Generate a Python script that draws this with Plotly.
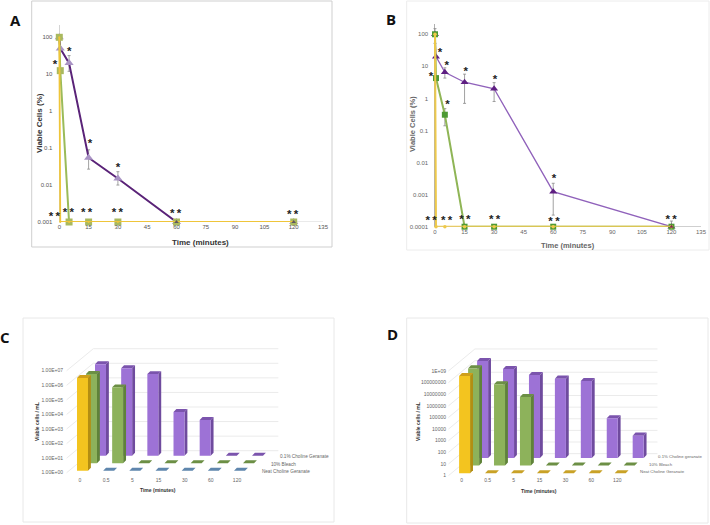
"""Four-panel viability figure: two log-scale kill curves and two oblique 3D-look bar charts."""

import math

import plotly.graph_objects as go

WIDTH = 710
HEIGHT = 525
FONT = "Liberation Sans"

# Panel A - viable cells (%)
A_TIME = [0, 0.5, 5, 15, 30, 60, 120]
A_CHOLINE = [100, 50, 20, 0.055, 0.015, 0.001, 0.001]
A_CHOLINE_UP = [0, 0, 12, 0.035, 0.008, 0, 0]
A_CHOLINE_DOWN = [0, 0, 8, 0.028, 0.005, 0, 0]
A_BLEACH = [100, 12.5, 0.001, 0.001, 0.001, 0.001, 0.001]
A_NEAT = [100, 0.001, 0.001, 0.001, 0.001, 0.001, 0.001]
A_STAR_X = [5.1, -2.2, 15.7, 30]
A_STAR_Y = [38.7, 17.2, 0.132, 0.0296]
A_DOUBLE_X = [-2.5, 4.6, 14, 29.7, 59.6, 119.5]
A_DOUBLE_Y = [0.00137, 0.00179, 0.00179, 0.00174, 0.00161, 0.00151]
A_TICKS = [100, 10, 1, 0.1, 0.01, 0.001]
A_TICK_TEXT = ["100", "10", "1", "0.1", "0.01", "0.001"]

# Panel B - viable cells (%)
B_TIME = [0, 0.5, 5, 15, 30, 60, 120]
B_CHOLINE = [100, 20, 6.5, 3.2, 2.0, 0.00124, 0.0001]
B_CHOLINE_UP = [50, 0, 2.5, 2.5, 1.1, 0.00102, 0.00005]
B_CHOLINE_DOWN = [48, 0, 2.2, 2.5, 1.2, 0.00101, 0]
B_BLEACH = [100, 4.3, 0.31, 0.0001, 0.0001, 0.0001, 0.0001]
B_BLEACH_UP = [0, 0, 0.17, 0, 0, 0, 0]
B_BLEACH_DOWN = [0, 0, 0.17, 0, 0, 0, 0]
B_NEAT = [100, 0.0001, 0.0001, 0.0001, 0.0001, 0.0001, 0.0001]
B_STAR_X = [2.5, 5.9, 15.6, 30.4, -2, 6.4, 60.4]
B_STAR_Y = [26.5, 10.4, 6.4, 3.7, 4.7, 0.6, 0.00296]
B_DOUBLE_X = [-2, 5.9, 15.2, 30.3, 60.4, 119.8]
B_DOUBLE_Y = [0.000148, 0.000148, 0.000156, 0.000156, 0.000142, 0.000156]
B_TICKS = [100, 10, 1, 0.1, 0.01, 0.001, 0.0001]
B_TICK_TEXT = ["100", "10", "1", "0.1", "0.01", "0.001", "0.0001"]

X_TICKS = list(range(0, 136, 15))

# Bar panels - viable cells / mL per time point, 1 means nothing recovered
BAR_TIMES = ["0", "0.5", "5", "15", "30", "60", "120"]
C_CHOLINE = [1.9e6, 1.0e6, 4.0e5, 1.0e3, 2.8e2, 1, 1]
C_BLEACH = [1.35e6, 1.6e5, 1, 1, 1, 1, 1]
C_NEAT = [2.3e6, 1, 1, 1, 1, 1, 1]
C_TICK_TEXT = ["1.00E+00", "1.00E+01", "1.00E+02", "1.00E+03",
               "1.00E+04", "1.00E+05", "1.00E+06", "1.00E+07"]
C_NAMES = ["Neat Choline Geranate", "10% Bleach", "0.1% Choline Geranate"]

D_CHOLINE = [2.2e8, 4.5e7, 1.35e7, 6.6e6, 4.2e6, 2.6e3, 83]
D_BLEACH = [2.3e8, 1.0e7, 8.0e5, 1, 1, 1, 1]
D_NEAT = [2.3e8, 1, 1, 1, 1, 1, 1]
D_TICK_TEXT = ["1", "10", "100", "1000", "10000", "100000", "1000000",
               "10000000", "100000000", "1E+09"]
D_NAMES = ["Neat Choline Geranate", "10% Bleach", "0.1% Choline geranate"]

PURPLE_BAR = dict(front="#9d72d6", side="#6f4b9e", top="#7b54ad")
GREEN_BAR = dict(front="#8db25b", side="#5f8239", top="#6c8f45")
YELLOW_BAR = dict(front="#f3c41f", side="#b38e12", top="#cf9f1a")


def dom_x(left, right):
    return [left / WIDTH, right / WIDTH]


def dom_y(bottom, top):
    return [1 - bottom / HEIGHT, 1 - top / HEIGHT]


fig = go.Figure()
annotations = []
shapes = []


def note(x, y, text, size, color="#404040", bold=False, angle=0, family=FONT):
    label = f"<b>{text}</b>" if bold else text
    annotations.append(dict(
        x=x / WIDTH, y=1 - y / HEIGHT, xref="paper", yref="paper", text=label,
        showarrow=False, textangle=angle, xanchor="center", yanchor="middle",
        font=dict(size=size, color=color, family=family),
    ))


def frame(left, top, right, bottom, color):
    shapes.append(dict(
        type="rect", xref="paper", yref="paper",
        x0=left / WIDTH, x1=right / WIDTH, y0=1 - bottom / HEIGHT, y1=1 - top / HEIGHT,
        line=dict(color=color, width=1), fillcolor="rgba(0,0,0,0)",
    ))


def line_axes(suffix, box, y_range, y_ticks, y_text, axis_color, tick_color):
    left, top, right, bottom = box
    per_unit = (right - left) / 135
    # the range starts a little left of zero so the stars there survive; zero line is the y axis
    base = dict(
        showgrid=False, showline=False, ticks="", automargin=False,
        tickfont=dict(size=6, color=tick_color, family=FONT),
    )
    fig.update_layout(**{
        f"xaxis{suffix}": dict(
            base, domain=dom_x(left - 3 * per_unit, right), range=[-3, 135], tickvals=X_TICKS,
            zeroline=True, zerolinecolor=axis_color, zerolinewidth=1, anchor=f"y{suffix}",
        ),
        f"yaxis{suffix}": dict(
            base, domain=dom_y(bottom, top), type="log", range=y_range, zeroline=False,
            tickvals=y_ticks, ticktext=y_text, anchor=f"x{suffix}",
        ),
    })
    fig.add_trace(go.Scatter(
        x=[0, 135], y=[y_ticks[-1], y_ticks[-1]], xaxis=f"x{suffix}", yaxis=f"y{suffix}",
        mode="lines", line=dict(color=axis_color, width=1), hoverinfo="skip",
        cliponaxis=False, showlegend=False,
    ))


def curve(suffix, x, y, color, width, symbol, size, marker_color, up=None, down=None):
    error = None
    if up is not None:
        error = dict(type="data", array=up, arrayminus=down, color="#8a8a8a",
                     thickness=0.8, width=1.5)
    fig.add_trace(go.Scatter(
        x=x, y=y, xaxis=f"x{suffix}", yaxis=f"y{suffix}", mode="lines+markers",
        line=dict(color=color, width=width),
        marker=dict(symbol=symbol, size=size, color=marker_color),
        error_y=error, cliponaxis=False, showlegend=False,
    ))


def dots(suffix, x, y, symbol, size, color):
    fig.add_trace(go.Scatter(
        x=x, y=y, xaxis=f"x{suffix}", yaxis=f"y{suffix}", mode="markers",
        marker=dict(symbol=symbol, size=size, color=color),
        cliponaxis=False, showlegend=False,
    ))


def stars(suffix, x, y, text):
    fig.add_trace(go.Scatter(
        x=x, y=y, xaxis=f"x{suffix}", yaxis=f"y{suffix}", mode="text",
        text=[f"<b>{text}</b>"] * len(x), textposition="middle center", cliponaxis=False,
        textfont=dict(size=11.5, color="#222222", family=FONT), showlegend=False,
    ))


def prism(bar_index, slot, value, geo):
    """Corner points of one oblique bar, in category / decade units."""
    height = math.log10(value)
    x0 = bar_index - geo["lead"] + slot * geo["slot_x"]
    x1 = x0 + geo["bar_w"]
    y0 = slot * geo["slot_y"]
    y1 = y0 + height
    dx, dy = geo["depth_x"], geo["depth_y"]
    return dict(
        front=[(x0, y0), (x1, y0), (x1, y1), (x0, y1)],
        side=[(x1, y0), (x1 + dx, y0 + dy), (x1 + dx, y1 + dy), (x1, y1)],
        top=[(x0, y1), (x1, y1), (x1 + dx, y1 + dy), (x0 + dx, y1 + dy)],
    )


def polygons(suffix, points_list, color):
    xs, ys = [], []
    for points in points_list:
        xs += [p[0] for p in points] + [points[0][0], None]
        ys += [p[1] for p in points] + [points[0][1], None]
    fig.add_trace(go.Scatter(
        x=xs, y=ys, xaxis=f"x{suffix}", yaxis=f"y{suffix}", mode="lines", fill="toself",
        fillcolor=color, line=dict(width=0, color=color), hoverinfo="skip",
        cliponaxis=False, showlegend=False,
    ))


def bar_panel(suffix, box, origin, unit, geo, series, flat_color, tick_text, names, name_pos, name_size):
    left, top, right, bottom = box
    ox, oy = origin
    ux, uy = unit
    fig.update_layout(**{
        f"xaxis{suffix}": dict(
            domain=dom_x(left, right),
            range=[(left - ox) / ux, (right - ox) / ux],
            tickvals=list(range(len(BAR_TIMES))), ticktext=BAR_TIMES,
            showgrid=False, zeroline=False, showline=False, ticks="", automargin=False,
            tickfont=dict(size=5, color="#666666", family=FONT), anchor=f"y{suffix}",
        ),
        f"yaxis{suffix}": dict(
            domain=dom_y(bottom, top),
            range=[(oy - bottom) / uy, (oy - top) / uy],
            tickvals=[i - geo["tick_drop"] for i in range(len(tick_text))], ticktext=tick_text,
            showgrid=False, zeroline=False, showline=False, ticks="", automargin=False,
            tickfont=dict(size=5, color="#666666", family=FONT), anchor=f"x{suffix}",
        ),
    })

    # wall and floor lines behind the bars
    for i in range(len(tick_text)):
        fig.add_trace(go.Scatter(
            x=[geo["wall_x0"], geo["wall_x1"], geo["wall_x2"]],
            y=[i - geo["tick_drop"], i + geo["wall_y"], i + geo["wall_y"]],
            xaxis=f"x{suffix}", yaxis=f"y{suffix}", mode="lines",
            line=dict(color="#ebebeb", width=1), hoverinfo="skip",
            cliponaxis=False, showlegend=False,
        ))

    # back row first so the nearer rows cover it
    for slot in reversed(range(len(series))):
        values, colors = series[slot]
        bars = [prism(i, slot, v, geo) for i, v in enumerate(values) if v > 1]
        flat = [prism(i, slot, v, geo) for i, v in enumerate(values) if v <= 1]
        flat_fill = flat_color if slot == 0 else colors["top"]
        polygons(suffix, [b["top"] for b in flat], flat_fill)
        polygons(suffix, [b["side"] for b in bars], colors["side"])
        polygons(suffix, [b["top"] for b in bars], colors["top"])
        polygons(suffix, [b["front"] for b in bars], colors["front"])

    for slot, name in enumerate(names):
        fig.add_trace(go.Scatter(
            x=[name_pos[0] + slot * geo["slot_x"]], y=[name_pos[1] + slot * geo["slot_y"]],
            xaxis=f"x{suffix}", yaxis=f"y{suffix}", mode="text", text=[name],
            textposition="middle right", cliponaxis=False, showlegend=False,
            textfont=dict(size=name_size, color="#666666", family=FONT),
        ))


DOUBLE_STAR = "*\u2009*"

# ---- Panel A ----
line_axes("", (59.3, 25, 323, 222), [-3, 2.333], A_TICKS, A_TICK_TEXT, "#d4d4d4", "#555555")
curve("", A_TIME, A_CHOLINE, "#5a2378", 2, "triangle-up", 8, "#a993c4", A_CHOLINE_UP, A_CHOLINE_DOWN)
curve("", A_TIME, A_BLEACH, "#9bbb59", 2, "square", 7, "#a9b95f")
curve("", A_TIME, A_NEAT, "#efc53a", 1.8, "circle", 2, "#efc53a")
dots("", A_TIME[-2:], A_CHOLINE[-2:], "triangle-up", 4, "#5f5560")
stars("", A_STAR_X, A_STAR_Y, "*")
stars("", A_DOUBLE_X, A_DOUBLE_Y, DOUBLE_STAR)

# ---- Panel B ----
line_axes("2", (435, 24, 701, 226.7), [-4, 2.32], B_TICKS, B_TICK_TEXT, "#b0b0b0", "#666666")
curve("2", B_TIME, B_CHOLINE, "#9062bb", 1.3, "triangle-up", 7, "#5e1f82", B_CHOLINE_UP, B_CHOLINE_DOWN)
curve("2", B_TIME, B_BLEACH, "#8fb556", 2, "square", 6, "#4e9a34", B_BLEACH_UP, B_BLEACH_DOWN)
curve("2", B_TIME, B_NEAT, "#eec94a", 2, "circle", 3.5, "#eec94a")
dots("2", B_TIME[-1:], B_CHOLINE[-1:], "triangle-up", 4, "#7b2d4f")
stars("2", B_STAR_X, B_STAR_Y, "*")
stars("2", B_DOUBLE_X, B_DOUBLE_Y, DOUBLE_STAR)

# ---- Panel C ----
C_GEO = dict(lead=0.115, bar_w=0.42, slot_x=0.344, slot_y=0.515, depth_x=0.11, depth_y=0.2,
             tick_drop=0.137, wall_x0=-0.51, wall_x1=0.51, wall_x2=7.58, wall_y=1.373)
bar_panel(
    "3", (64, 330, 334, 476), (80, 470.7), (26.17, 14.57), C_GEO,
    [(C_NEAT, YELLOW_BAR), (C_BLEACH, GREEN_BAR), (C_CHOLINE, PURPLE_BAR)],
    "#5f86ad", C_TICK_TEXT, C_NAMES, (6.95, -0.1), 4.7,
)

# ---- Panel D ----
D_GEO = dict(lead=0.10, bar_w=0.425, slot_x=0.347, slot_y=0.66, depth_x=0.11, depth_y=0.26,
             tick_drop=0.2, wall_x0=-0.51, wall_x1=0.51, wall_x2=7.55, wall_y=1.69)
bar_panel(
    "4", (447, 330, 708, 476), (461.7, 473.3), (25.93, 11.63), D_GEO,
    [(D_NEAT, YELLOW_BAR), (D_BLEACH, GREEN_BAR), (D_CHOLINE, PURPLE_BAR)],
    "#c9a227", D_TICK_TEXT, D_NAMES, (6.88, 0.1), 4.3,
)

# panel outlines
frame(31.7, 1, 332, 247, "#cfcfcf")
frame(406.7, 1, 709, 250, "#ececec")
frame(23, 318, 334, 522, "#e8e8e8")
frame(406.7, 318, 708, 523, "#e8e8e8")

# panel letters
note(15, 20, "A", 15, "#111111", True, family="Open Sans")
note(391, 19, "B", 15, "#111111", True, family="Open Sans")
note(5, 337, "C", 15, "#111111", True, family="Open Sans")
note(392, 334, "D", 15, "#111111", True, family="Open Sans")

# axis titles
note(200, 242, "Time (minutes)", 8, "#333333", True)
note(39, 123, "Viable Cells (%)", 8, "#333333", True, angle=-90)
note(568, 245, "Time (minutes)", 7.5, "#666666", True)
note(413, 124, "Viable Cells (%)", 7.5, "#666666", True, angle=-90)
note(158, 490, "Time (minutes)", 5, "#333333", True)
note(37, 422, "Viable cells / mL", 5, "#333333", True, angle=-90)
note(539, 491, "Time (minutes)", 5, "#333333", True)
note(418, 422, "Viable cells / mL", 5, "#333333", True, angle=-90)

fig.update_layout(
    width=WIDTH, height=HEIGHT, margin=dict(l=0, r=0, t=0, b=0),
    paper_bgcolor="white", plot_bgcolor="white", showlegend=False,
    annotations=annotations, shapes=shapes,
)

fig.write_html("out.html", config={"displayModeBar": False},
               post_script="document.body.style.margin='0';")
